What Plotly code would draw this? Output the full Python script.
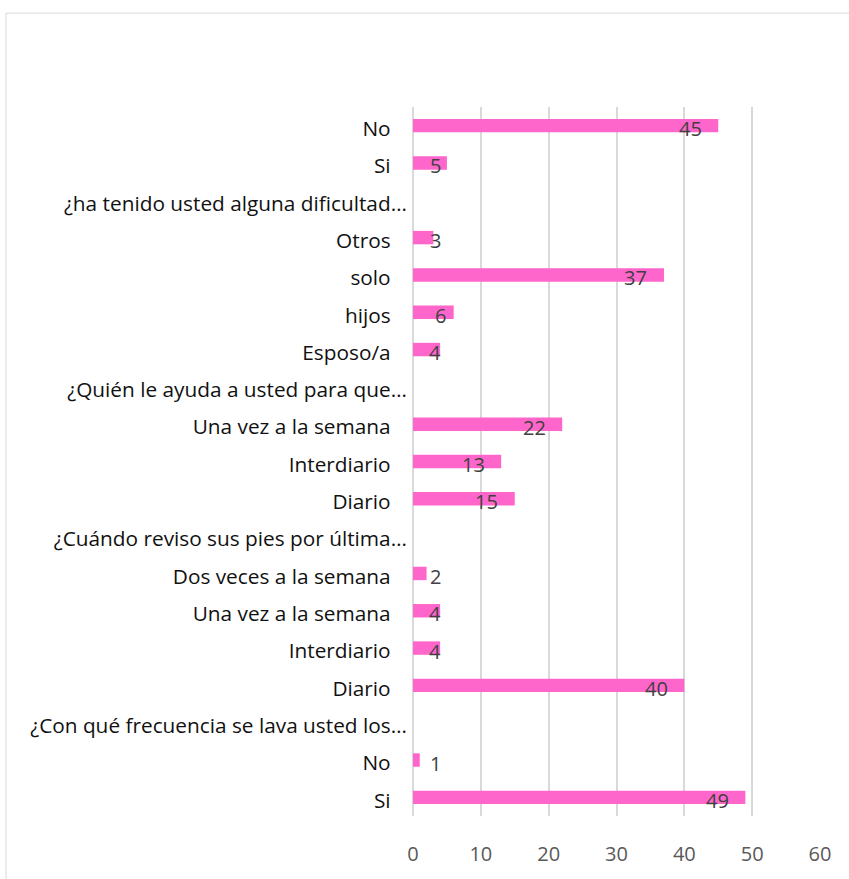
import plotly.graph_objects as go

# Survey answers, listed bottom-to-top as they appear on the axis
labels = [
    "Si", "No", "¿Con qué frecuencia se lava usted los…",
    "Diario", "Interdiario", "Una vez a la semana", "Dos veces a la semana",
    "¿Cuándo reviso sus pies por última…",
    "Diario", "Interdiario", "Una vez a la semana ",
    "¿Quién le ayuda a usted para que…",
    "Esposo/a", "hijos", "solo", "Otros",
    "¿ha tenido usted alguna dificultad…",
    "Si", "No",
]
values = [49, 1, None, 40, 4, 4, 2, None, 15, 13, 22, None, 4, 6, 37, 3, None, 5, 45]
x_ticks = [0, 10, 20, 30, 40, 50, 60]

positions = list(range(len(labels)))
NBSP = "\u00a0"
# question headers sit closer to the axis than the answer labels
tick_text = [t if t.endswith("…") else t.rstrip() + NBSP * 3 for t in labels]

BAR = "#FF66CC"
FONT = "'Open Sans', sans-serif"
FS_CAT = 20.8
FS_NUM = 20

fig = go.Figure()
fig.add_trace(go.Bar(
    x=values, y=positions, orientation="h",
    marker=dict(color=BAR, line=dict(width=0)),
    width=0.36, hoverinfo="x+y",
))

# value labels near the end of each bar (px per unit ≈ 6.78)
px_per_unit = 407 / 60
for pos, v in zip(positions, values):
    if v is None:
        continue
    off = 28 if v >= 10 else 13
    xc = max(v - off / px_per_unit, 22 / px_per_unit)
    fig.add_annotation(
        x=xc, y=pos, xref="x", yref="y", text=str(v), showarrow=False,
        xanchor="center", yanchor="middle", yshift=-3,
        font=dict(family=FONT, size=FS_NUM, color="#404040"),
    )

fig.update_layout(
    width=849, height=879,
    margin=dict(l=413, r=29, t=107, b=58),
    paper_bgcolor="white", plot_bgcolor="white",
    showlegend=False,
    font=dict(family=FONT),
    shapes=[dict(
        type="rect", xref="paper", yref="paper",
        x0=(6 - 413) / 407, x1=1.3, y0=-0.3, y1=(821 - 12.5) / 714,
        line=dict(color="#D9D9D9", width=1), fillcolor="rgba(0,0,0,0)",
        layer="below",
    )],
)
fig.update_xaxes(
    range=[0, 60], tickvals=x_ticks, showgrid=True,
    gridcolor="#D9D9D9", gridwidth=1.5, zeroline=True,
    zerolinecolor="#D9D9D9", zerolinewidth=1.5,
    ticks="outside", ticklen=20, tickcolor="rgba(0,0,0,0)",
    tickfont=dict(family=FONT, size=FS_NUM, color="#595959"),
    showline=False, fixedrange=True,
)
fig.update_yaxes(
    range=[-0.5, len(labels) - 0.5], tickvals=positions, ticktext=tick_text,
    showgrid=False, zeroline=False, showline=False,
    ticks="outside", ticklen=1, tickcolor="rgba(0,0,0,0)",
    ticklabelshift=3,
    tickfont=dict(family=FONT, size=FS_CAT, color="#111111"),
    fixedrange=True,
)

fig.write_html("out.html")
